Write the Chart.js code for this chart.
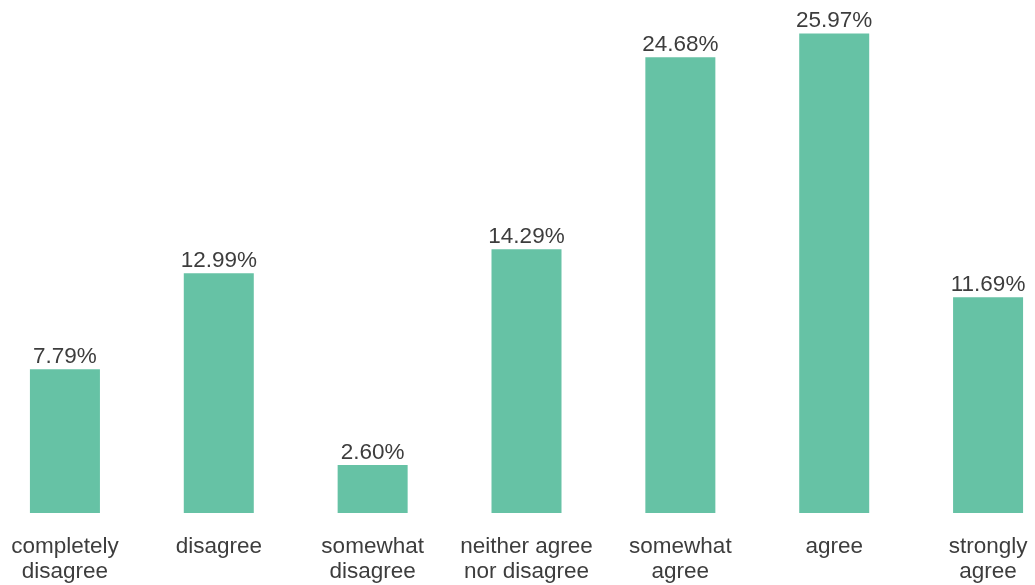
<!DOCTYPE html>
<html>
<head>
<meta charset="utf-8">
<script src="https://cdn.jsdelivr.net/npm/chart.js@4/dist/chart.umd.min.js"></script>
<style>
  html, body { margin: 0; padding: 0; background: #ffffff; overflow: hidden; }
  #wrap { position: absolute; left: -12px; top: 0; width: 1077px; height: 605px; }
</style>
</head>
<body>
<div id="wrap"><canvas id="chart"></canvas></div>
<script>
// Survey answer categories (multi-line tick labels)
const categories = [
  ['completely', 'disagree'],
  ['disagree'],
  ['somewhat', 'disagree'],
  ['neither agree', 'nor disagree'],
  ['somewhat', 'agree'],
  ['agree'],
  ['strongly', 'agree']
];
// Share of responses, in percent
const shares = [7.79, 12.99, 2.60, 14.29, 24.68, 25.97, 11.69];

const FONT = '"Liberation Sans", Arial, sans-serif';
const TEXT = '#3d3d3d';
const SIZE = 22.5;

// Writes each bar's value just above it
const valueLabels = {
  id: 'valueLabels',
  afterDatasetsDraw(chart) {
    const ctx = chart.ctx;
    const meta = chart.getDatasetMeta(0);
    ctx.save();
    ctx.font = SIZE + 'px ' + FONT;
    ctx.fillStyle = TEXT;
    ctx.textAlign = 'center';
    ctx.textBaseline = 'alphabetic';
    meta.data.forEach((bar, i) => {
      ctx.fillText(shares[i].toFixed(2) + '%', bar.x, bar.y - 6);
    });
    ctx.restore();
  }
};

new Chart(document.getElementById('chart'), {
  type: 'bar',
  data: {
    labels: categories,
    datasets: [{
      data: shares,
      backgroundColor: '#66c2a5',
      borderWidth: 0,
      barPercentage: 0.91,
      categoryPercentage: 0.5
    }]
  },
  options: {
    responsive: true,
    maintainAspectRatio: false,
    animation: false,
    layout: { padding: { top: 0, bottom: 0, left: 0, right: 0 } },
    plugins: {
      legend: { display: false },
      tooltip: { enabled: false }
    },
    scales: {
      x: {
        offset: true,
        grid: { display: false, drawTicks: false },
        border: { display: false },
        ticks: {
          padding: 21,
          color: TEXT,
          maxRotation: 0,
          autoSkip: false,
          font: { family: FONT, size: SIZE, lineHeight: 1.11 }
        }
      },
      y: {
        display: false,
        min: 0,
        max: 27.78
      }
    }
  },
  plugins: [valueLabels]
});
</script>
</body>
</html>
